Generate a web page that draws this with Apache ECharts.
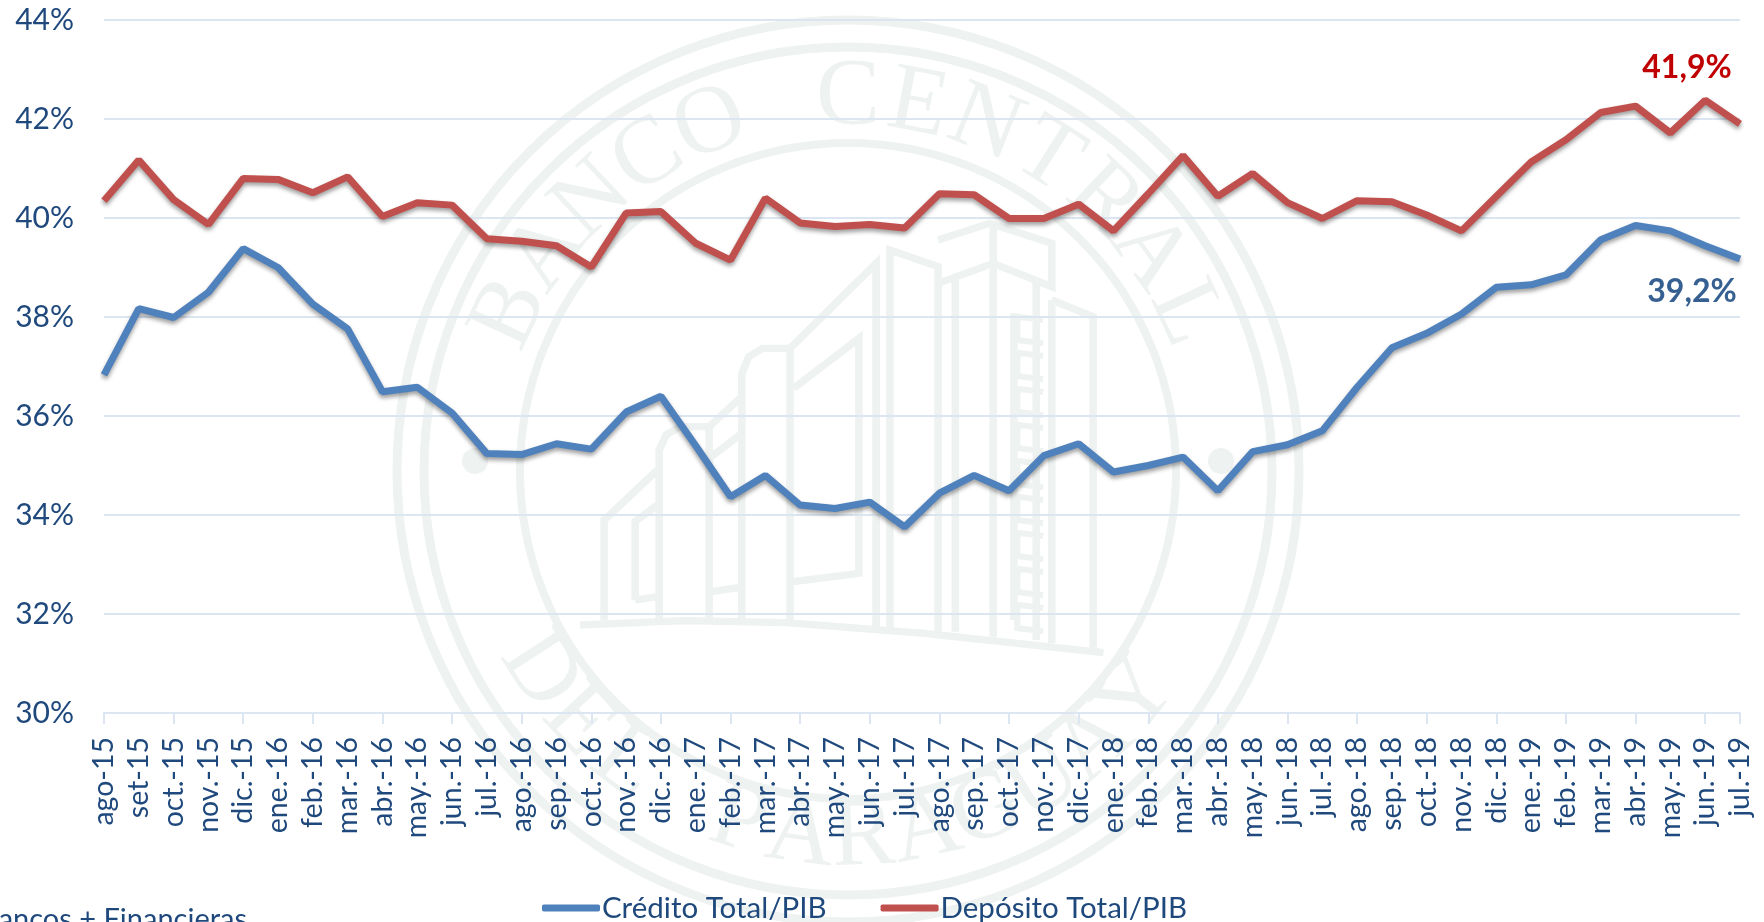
<!DOCTYPE html>
<html><head><meta charset="utf-8">
<style>html,body{margin:0;padding:0;background:#fff;overflow:hidden}#c{width:1764px;height:922px}</style>
<script src="https://cdn.jsdelivr.net/npm/echarts@6/dist/echarts.min.js"></script>
</head><body><div id="c"></div>
<script>
const months = ['ago-15','set-15','oct.-15','nov.-15','dic.-15','ene.-16','feb.-16','mar.-16','abr.-16','may.-16','jun.-16','jul.-16','ago.-16','sep.-16','oct.-16','nov.-16','dic.-16','ene.-17','feb.-17','mar.-17','abr.-17','may.-17','jun.-17','jul.-17','ago.-17','sep.-17','oct.-17','nov.-17','dic.-17','ene.-18','feb.-18','mar.-18','abr.-18','may.-18','jun.-18','jul.-18','ago.-18','sep.-18','oct.-18','nov.-18','dic.-18','ene.-19','feb.-19','mar.-19','abr.-19','may.-19','jun.-19','jul.-19'];
const credito = [36.83,38.17,37.99,38.5,39.38,39.0,38.26,37.76,36.49,36.58,36.06,35.24,35.22,35.44,35.33,36.08,36.4,35.4,34.37,34.8,34.2,34.13,34.26,33.76,34.44,34.8,34.49,35.2,35.44,34.87,35.0,35.17,34.49,35.28,35.42,35.7,36.58,37.38,37.67,38.06,38.6,38.65,38.85,39.56,39.85,39.74,39.44,39.17];
const deposito = [40.35,41.17,40.37,39.87,40.8,40.78,40.51,40.83,40.03,40.31,40.26,39.58,39.53,39.44,39.01,40.1,40.13,39.49,39.15,40.4,39.9,39.83,39.87,39.8,40.49,40.47,39.99,39.99,40.28,39.74,40.49,41.26,40.44,40.9,40.31,39.99,40.35,40.33,40.06,39.74,40.44,41.13,41.58,42.13,42.26,41.72,42.38,41.9];
const seriesNames = ['Crédito Total/PIB','Depósito Total/PIB'];
const footnote = 'Bancos + Financieras';

const INK = '#1f497d', GRID = '#dce6f2', SEAL = '#eef2f1';
const FONT = 'Lato';
const cx = 848, cy = 471;

/* watermark seal: purely decorative */
function ring(r, w){ return {type:'circle', z:-1, silent:true, shape:{cx,cy,r}, style:{fill:'none',stroke:SEAL,lineWidth:w}}; }
function arcText(str, r, a0, a1, bottom){
  const out=[]; const n=str.length;
  for(let i=0;i<n;i++){
    if(str[i]===' ') continue;
    const deg=a0+(a1-a0)*i/(n-1), a=deg*Math.PI/180;
    const x=cx+r*Math.sin(a), y=bottom? cy+r*Math.cos(a) : cy-r*Math.cos(a);
    out.push({type:'text', z:-1, silent:true, x, y,
      rotation: bottom? a : -a,
      style:{text:str[i], fontFamily:'Liberation Serif', fontSize:96, fill:SEAL, align:'center', verticalAlign:'middle'}});
  }
  return out;
}
const buildingLines = [
 [[0,1275],[300,1262],[600,1268],[1000,1300],[1520,1358]],
 [[70,1260],[70,960],[225,810]],
 [[160,1200],[160,965],[225,915]],
 [[160,1200],[225,1190]],
 [[230,1260],[230,750],[250,705],[290,680],[375,680],[375,1260]],
 [[375,775],[470,700]],
 [[375,680],[470,590]],
 [[380,1175],[465,1162]],
 [[470,1260],[470,520],[490,470],[530,445],[610,445],[610,1265]],
 [[620,565],[810,415],[810,1120],[620,1145]],
 [[610,445],[860,190],[860,1280]],
 [[900,1285],[900,150],[1040,200],[1040,1295]],
 [[1040,120],[1190,70],[1370,130],[1370,260],[1200,190],[1040,250]],
 [[1090,1295],[1090,240]],
 [[1200,70],[1200,1310]],
 [[1325,250],[1325,1320]],
 [[1260,340],[1260,1260]],
 [[1370,300],[1490,350],[1490,1350]],
 [[1370,300],[1370,1330]]
];
const ladder=[]; for(let y=360;y<1260;y+=108){ ladder.push({type:'polyline',z:-1,silent:true,shape:{points:[[1345,y],[1270,y-10],[1270,y+60],[1345,y+70]]},style:{fill:'none',stroke:SEAL,lineWidth:18}}); }
const building = {type:'group', x:580, y:200, scaleX:1/2.904, scaleY:1/3, silent:true, children:
  buildingLines.map(p=>({type:'polyline',z:-1,silent:true,shape:{points:p},style:{fill:'none',stroke:SEAL,lineWidth:22}})).concat(ladder)};
const seal = [ring(451,9),ring(424,9),ring(328,8),
  {type:'circle',z:-1,silent:true,shape:{cx:475,cy:461,r:13},style:{fill:SEAL}},
  {type:'circle',z:-1,silent:true,shape:{cx:1221,cy:461,r:13},style:{fill:SEAL}},
  ...arcText('BANCO CENTRAL',372,-65,65,false),
  ...arcText('DEL PARAGUAY',368,-57,52,true),
  building];

const fmt = v => v.toFixed(1).replace('.',',') + '%';
function endMark(values,color,offset,weight){
  const last=values.length-1;
  return {symbol:'circle',symbolSize:0,silent:true,animation:false,
    data:[{coord:[months[last],values[last]],value:values[last]}],
    label:{show:true,position:'inside',offset,formatter:()=>fmt(values[last]),color,fontFamily:FONT,fontSize:32,fontWeight:weight}};
}
function line(name,values,color,mark){
  return {type:'line',name,data:values,showSymbol:false,symbol:'none',animation:false,smooth:false,
    lineStyle:{color,width:7,shadowColor:'rgba(0,0,0,0.38)',shadowBlur:4,shadowOffsetY:3},
    itemStyle:{color},markPoint:mark};
}
const chart = echarts.init(document.getElementById('c'),null,{renderer:'canvas'});
chart.setOption({
  backgroundColor:'#fff',animation:false,
  grid:{left:104,right:24,top:20,height:693,containLabel:false},
  legend:{left:537,top:888,itemWidth:58,itemHeight:7,itemGap:54,icon:'roundRect',
    textStyle:{color:INK,fontFamily:FONT,fontSize:29.5,padding:[0,0,0,-3]},
    data:seriesNames.map((n,i)=>({name:n,itemStyle:{color:['#4f81bd','#c0504d'][i]}}))},
  xAxis:{type:'category',data:months,boundaryGap:false,
    axisLine:{lineStyle:{color:GRID,width:2}},
    axisTick:{show:true,interval:1,length:11,lineStyle:{color:GRID,width:2}},
    axisLabel:{interval:0,rotate:90,margin:24,color:INK,fontFamily:FONT,fontSize:28.5,hideOverlap:false},
    splitLine:{show:false}},
  yAxis:{type:'value',min:30,max:44,interval:2,
    axisLine:{show:false},axisTick:{show:false},
    axisLabel:{margin:30,color:INK,fontFamily:FONT,fontSize:30,formatter:v=>v+'%'},
    splitLine:{show:true,lineStyle:{color:GRID,width:2}}},
  series:[
    line(seriesNames[0],credito,'#4f81bd',endMark(credito,'#376092',[-48,33],700)),
    line(seriesNames[1],deposito,'#c0504d',endMark(deposito,'#c00000',[-53,-56],700))
  ],
  graphic:{elements:[...seal,
    {type:'text',x:247,y:905,silent:true,style:{text:footnote,fontFamily:FONT,fontSize:29,fill:INK,align:'right',verticalAlign:'top'}}]}
});
</script></body></html>
